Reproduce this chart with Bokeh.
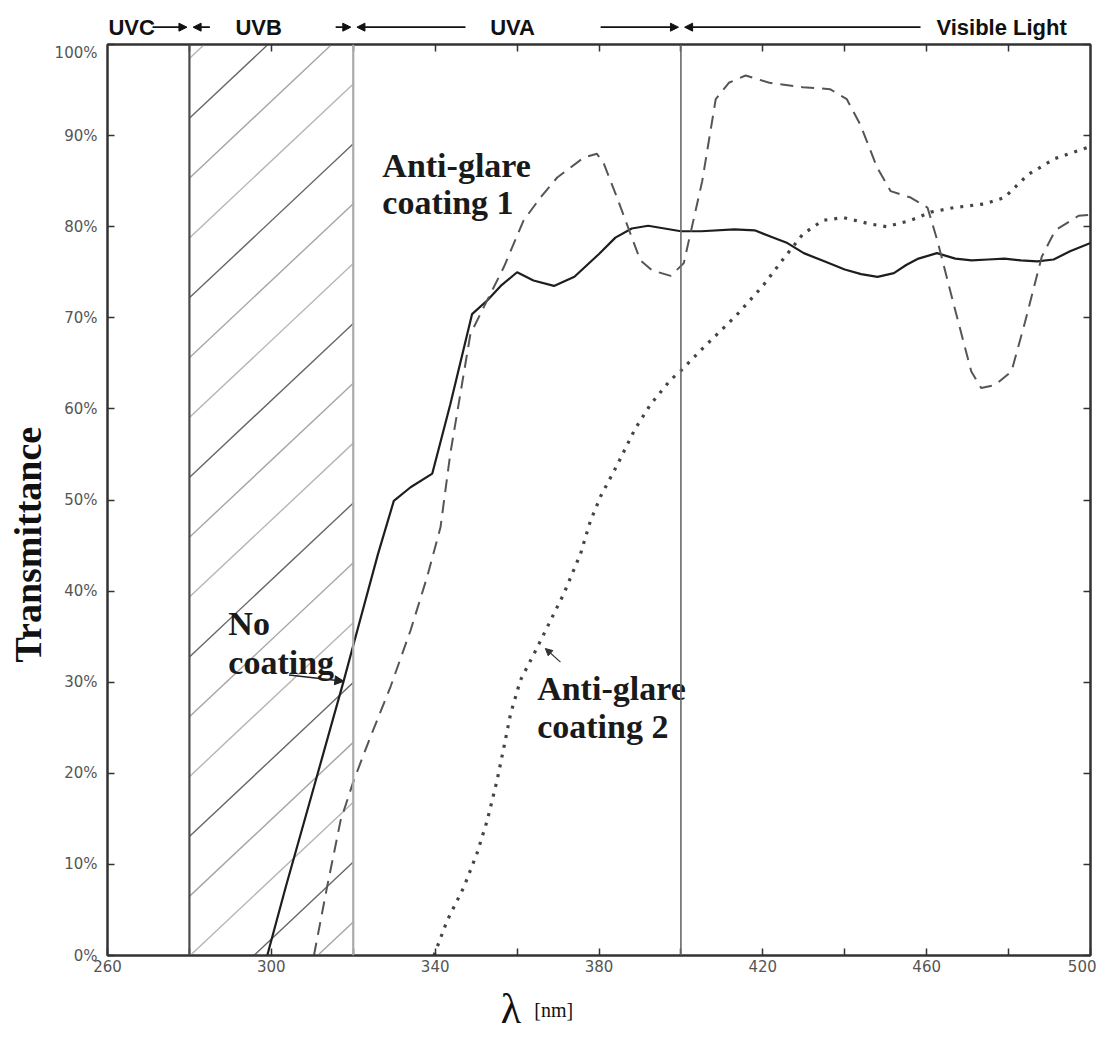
import math
from bokeh.plotting import figure
from bokeh.models import (Range1d, LinearAxis, FixedTicker, Arrow, NormalHead,
                          ColumnDataSource, PrintfTickFormatter, Span, Spacer)
from bokeh.layouts import column, row
from bokeh.embed import file_html
from bokeh.resources import INLINE
from bokeh.core.properties import value

# ---------------- data ----------------
wl_none = [299, 303.5, 310.4, 317.7, 321, 326, 329.9, 334, 339.3, 343.7, 349, 352.7, 356, 360,
           364, 369, 374, 380, 384, 388, 392, 396, 400, 405, 413, 418, 422, 426, 430, 435, 440,
           444, 448, 452, 455, 458, 462.5, 467, 471, 475, 479, 483, 487, 491, 495, 500]
t_none = [0, 7.5, 18.5, 30.2, 35.7, 44, 49.9, 51.4, 52.9, 60.5, 70.4, 71.9, 73.5, 75,
          74.1, 73.5, 74.5, 77, 78.8, 79.8, 80.1, 79.8, 79.5, 79.5, 79.7, 79.6, 78.9, 78.2, 77.1, 76.2, 75.3,
          74.8, 74.5, 74.9, 75.8, 76.5, 77.1, 76.5, 76.3, 76.4, 76.5, 76.3, 76.2, 76.4, 77.3, 78.2]

wl_ag1 = [310.4, 313.6, 316.9, 320.1, 324.2, 329.1, 334, 338, 341.3, 343.7, 348.6, 351.9, 356.8,
          361.6, 365.7, 369.8, 376.3, 379.5, 381.2, 384.4, 387.7, 390.1, 393, 397.5, 400.7, 402.7,
          405.2, 408.5, 411.7, 415.8, 421.6, 429.8, 436.4, 440.5, 443.8, 447.9, 451.2, 456.1, 460.2,
          462.6, 466.7, 470.9, 473.3, 476.6, 480.7, 484, 488.1, 491.4, 497.1, 500]
t_ag1 = [0, 7.5, 14.8, 19.2, 24, 29.5, 35.7, 41.5, 47, 55.1, 68.2, 71.2, 75.6,
         80.7, 83.2, 85.4, 87.6, 88, 86.9, 83.2, 79.2, 76.3, 75.2, 74.6, 76, 80,
         85, 94, 95.8, 96.6, 95.8, 95.3, 95.1, 94, 91.2, 86.5, 83.9, 83.2, 82.1,
         78.5, 71.3, 64.1, 62.3, 62.6, 64.1, 69.5, 76.7, 79.6, 81.2, 81.3]

wl_ag2 = [339.7, 342.9, 347, 350.2, 352.7, 355.1, 356.8, 358.4, 360.8, 364.9, 368.2, 371.4, 375.5,
          377.9, 380.5, 384.4, 388.8, 392.6, 397.5, 400, 405.2, 413.4, 420, 424.9, 429.8, 434.7,
          439.7, 446.2, 450.3, 456.1, 461, 466.7, 474.1, 479, 484.7, 491.4, 500]
t_ag2 = [0, 3.8, 7.5, 11.2, 14.8, 19.2, 22.9, 26.5, 30.2, 33.8, 36.8, 39.7, 44.1,
         47.7, 50.5, 53.8, 57.8, 60.5, 63.2, 64.2, 66.6, 70.2, 73.5, 76.4, 79.2, 80.7,
         81, 80.3, 80, 80.7, 81.6, 82.1, 82.5, 83.2, 85.7, 87.5, 88.8]

band_edges = [280, 320, 400]
band_names = ["UVC", "UVB", "UVA", "Visible Light"]
band_label_x = [265.9, 296.9, 358.9, 478.3]
arrow_tail_right = [271, 315.7, 380.4]
arrow_tail_left = [285, 347.4, 458.5]

x_label_ticks = list(range(260, 501, 40))
x_minor_ticks = list(range(280, 500, 40))
x_all_ticks = list(range(260, 501, 20))
y_ticks = list(range(0, 101, 10))

note_lines = ["Anti-glare", "coating 1", "No", "coating", "Anti-glare", "coating 2"]
note_x = [327.1, 327.1, 289.5, 289.5, 364.9, 364.9]
note_y = [86.7, 82.7, 36.4, 32.2, 29.3, 25.1]

# ---------------- geometry ----------------
FW, FH = 983, 911
LEFT_STRIP = 50
BORDER_L = 57
BORDER_R = 6
TOP_H = 43
BOTTOM_BORDER = 26
BOTTOM_H = 54

# ---------------- main figure ----------------
p = figure(frame_width=FW, frame_height=FH, x_range=Range1d(260, 500), y_range=Range1d(0, 100),
           output_backend="svg", toolbar_location=None,
           min_border_left=BORDER_L, min_border_right=BORDER_R, min_border_top=1,
           min_border_bottom=BOTTOM_BORDER)
p.background_fill_color = "white"
p.border_fill_color = "white"
p.grid.visible = False
p.outline_line_color = "#333333"
p.outline_line_width = 2

TICK_FONT = "DejaVu Sans"
for ax in (p.xaxis[0], p.yaxis[0]):
    ax.axis_line_color = "#333333"
    ax.axis_line_width = 2
    ax.major_tick_in = 7
    ax.major_tick_out = 0
    ax.major_tick_line_color = "#333333"
    ax.major_tick_line_width = 1.5
    ax.minor_tick_line_color = None
    ax.major_label_text_font = TICK_FONT
    ax.major_label_text_font_size = "15px"
    ax.major_label_text_color = "#555555"

p.xaxis.ticker = FixedTicker(ticks=x_label_ticks, minor_ticks=x_minor_ticks)
p.xaxis.minor_tick_line_color = "#333333"
p.xaxis.minor_tick_line_width = 1.5
p.xaxis.minor_tick_in = 7
p.xaxis.minor_tick_out = 0
p.xaxis.major_label_standoff = 4
p.yaxis.ticker = FixedTicker(ticks=y_ticks)
p.yaxis.formatter = PrintfTickFormatter(format="%d%%")
p.yaxis.major_label_standoff = 10

for loc in ("right", "above"):
    ax = LinearAxis(ticker=FixedTicker(ticks=y_ticks if loc == "right" else x_all_ticks[1:-1]))
    ax.major_label_text_color = None
    ax.major_label_text_font_size = "1px"
    ax.major_label_standoff = 0
    ax.major_tick_in = 7
    ax.major_tick_out = 0
    ax.major_tick_line_color = "#333333"
    ax.major_tick_line_width = 1.5
    ax.minor_tick_line_color = None
    ax.axis_line_color = "#333333"
    ax.axis_line_width = 2
    p.add_layout(ax, loc)

# hatched UVB band (diagonal lines computed from the band edges)
hatch_step, hatch_slope, hatch_phase = 6.57, 0.4226, 91.9
hx0, hy0, hx1, hy1, hcol = [], [], [], [], []
shades = ["#666666", "#a5a5a5", "#b5b5b5"]
xa, xb = band_edges[0], band_edges[1]
rise = (xb - xa) * hatch_slope
for k in range(-20, 20):
    b = hatch_phase - k * hatch_step
    if b >= 100 or b + rise <= 0:
        continue
    sx, sy = (xa, b) if b >= 0 else (xa - b / hatch_slope, 0)
    ex, ey = (xb, b + rise) if b + rise <= 100 else (xa + (100 - b) / hatch_slope, 100)
    hx0.append(sx); hy0.append(sy); hx1.append(ex); hy1.append(ey)
    hcol.append(shades[k % 3])
p.segment(x0=hx0, y0=hy0, x1=hx1, y1=hy1, line_color=hcol, line_width=1.4)

# region boundaries
edge_colors = ["#4a4a4a", "#aaaaaa", "#6a6a6a"]
edge_widths = [2.2, 2.2, 1.6]
for e, c, w in zip(band_edges, edge_colors, edge_widths):
    p.add_layout(Span(location=e, dimension="height", line_color=c, line_width=w))

# curves
p.line(wl_none, t_none, line_color="#1e1e1e", line_width=2.2)
p.line(wl_ag1, t_ag1, line_color="#555555", line_width=2.0, line_dash="13 8")
p.line(wl_ag2, t_ag2, line_color="#444444", line_width=3.2, line_dash="3 7")

# annotations
notes = ColumnDataSource(dict(x=note_x, y=note_y, text=note_lines))
p.text(x="x", y="y", text="text", source=notes, text_font=value("Liberation Serif"),
       text_font_style="bold", text_font_size="34px", text_color="#1a1a1a",
       text_baseline="alphabetic", text_align="left")

p.add_layout(Arrow(end=NormalHead(size=9, fill_color="#222222", line_color="#222222"),
                   x_start=304.3, y_start=30.8, x_end=317.7, y_end=30.1,
                   line_color="#222222", line_width=1.5))
p.add_layout(Arrow(end=NormalHead(size=7, fill_color="#333333", line_color="#333333"),
                   x_start=370.6, y_start=32.2, x_end=366.9, y_end=33.7,
                   line_color="#333333", line_width=1.2))

# ---------------- top strip with spectral bands ----------------
top = figure(frame_width=FW, frame_height=TOP_H, x_range=p.x_range, y_range=Range1d(0, 1),
             output_backend="svg", toolbar_location=None, x_axis_type=None, y_axis_type=None,
             min_border_left=BORDER_L, min_border_right=BORDER_R, min_border_top=0, min_border_bottom=0)
top.outline_line_color = None
top.grid.visible = False
top.text(x=band_label_x, y=[0.38] * 4, text=band_names, text_font=value("Liberation Sans"),
         text_font_style="bold", text_font_size="22px", text_align="center",
         text_baseline="middle", text_color="#111111")
for e, tr, tl in zip(band_edges, arrow_tail_right, arrow_tail_left):
    top.add_layout(Arrow(end=NormalHead(size=8, fill_color="#111111", line_color="#111111"),
                         x_start=tr, y_start=0.38, x_end=e - 0.6, y_end=0.38,
                         line_color="#111111", line_width=1.6))
    top.add_layout(Arrow(end=NormalHead(size=8, fill_color="#111111", line_color="#111111"),
                         x_start=tl, y_start=0.38, x_end=e + 0.9, y_end=0.38,
                         line_color="#111111", line_width=1.6))

# ---------------- bottom strip with the axis title ----------------
bottom = figure(frame_width=FW, frame_height=BOTTOM_H, x_range=p.x_range, y_range=Range1d(0, 1),
                output_backend="svg", toolbar_location=None, x_axis_type=None, y_axis_type=None,
                min_border_left=BORDER_L, min_border_right=BORDER_R, min_border_top=0, min_border_bottom=0)
bottom.outline_line_color = None
bottom.grid.visible = False
bottom.text(x=[358.5], y=[0.5], text=["λ"], text_font=value("Liberation Serif"),
            text_font_size="42px", text_align="center", text_baseline="middle", text_color="#111111")
bottom.text(x=[364.2], y=[0.47], text=["[nm]"], text_font=value("Liberation Serif"),
            text_font_size="20px", text_align="left", text_baseline="middle", text_color="#111111")

# ---------------- left strip with the axis title ----------------
left = figure(frame_width=LEFT_STRIP, frame_height=FH, x_range=Range1d(0, LEFT_STRIP), y_range=p.y_range,
              output_backend="svg", toolbar_location=None, x_axis_type=None, y_axis_type=None,
              min_border_left=0, min_border_right=0, min_border_top=0, min_border_bottom=0)
left.outline_line_color = None
left.grid.visible = False
left.text(x=[27.5], y=[45.1], text=["Transmittance"], angle=math.pi / 2,
          text_font=value("Liberation Serif"), text_font_style="bold", text_font_size="38px",
          text_align="center", text_baseline="middle", text_color="#111111")

layout = row(column(Spacer(width=LEFT_STRIP, height=TOP_H + 1), left, spacing=0),
             column(top, p, bottom, spacing=0), spacing=0)
open("out.html", "w").write(file_html(layout, INLINE))
